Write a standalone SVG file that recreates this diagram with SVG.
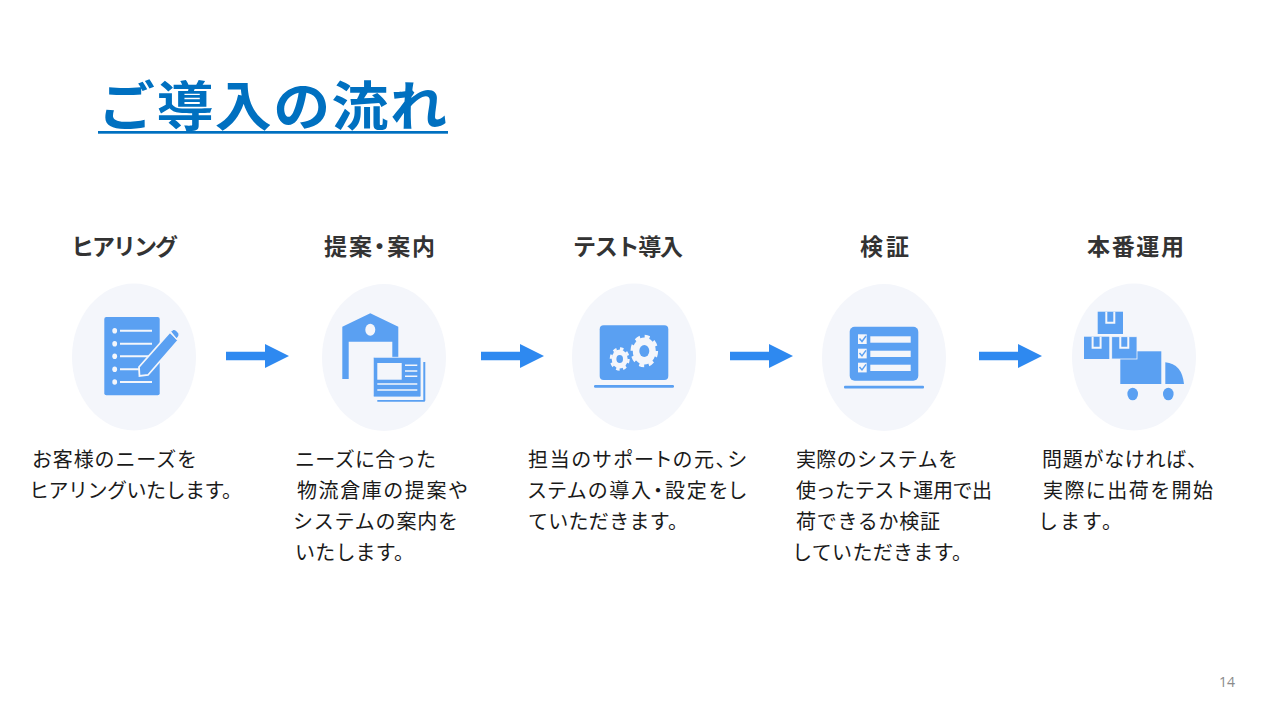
<svg xmlns="http://www.w3.org/2000/svg" width="1280" height="720" viewBox="0 0 1280 720">
<defs>
<style>
text{font-family:"Noto Sans CJK JP","Noto Sans",sans-serif}
.title{font-size:57px;font-weight:700;fill:#0070c0}
.head{font-size:23px;font-weight:700;fill:#333}
.body{font-size:20px;font-weight:400;fill:#1a1a1a}
.palt{font-feature-settings:"palt"}
.bg{fill:#f4f6fb}
.ic{fill:#5aa0f2}
.lt{fill:#f4f6fb}
.ln{stroke:#f4f6fb;stroke-width:2;fill:none}
.arrow{fill:#2e89f0}
</style>
<path id="arr" class="arrow" d="M0 -4.2H39V-12L63 0L39 12V4.2H0Z"/>
</defs>
<rect width="1280" height="720" fill="#fff"/>
<g id="title">
<text class="title" transform="translate(98 126) scale(1 .93)" textLength="349">ご導入の流れ</text>
<rect x="98" y="131" width="350" height="2.700" fill="#0070c0"/>
</g>
<g id="connectors">
<use href="#arr" x="226" y="356"/>
<use href="#arr" x="481" y="356"/>
<use href="#arr" x="730" y="356"/>
<use href="#arr" x="979" y="356"/>
</g>
<g id="node-hearing">
<text class="head" x="71" y="255" textLength="107">ヒアリング</text>
<ellipse class="bg" cx="134" cy="357" rx="62" ry="73.5"/>
<rect class="ic" x="104.3" y="317" width="55.4" height="78.3" rx="2"/>
<g class="lt"><ellipse cx="114.7" cy="330.7" rx="2.4" ry="2.8"/><ellipse cx="114.7" cy="343.7" rx="2.4" ry="2.8"/><ellipse cx="114.7" cy="356.3" rx="2.4" ry="2.8"/><ellipse cx="114.7" cy="369.3" rx="2.4" ry="2.8"/><ellipse cx="114.7" cy="382" rx="2.4" ry="2.8"/></g>
<path class="ln" d="M120 330.7H152M120 343.7H152M120 356.3H150M120 369.3H140M120 382H152"/>
<path class="ic" stroke="#f4f6fb" stroke-width="1.8" d="M139 367L170 332L178.500 340L148 375L139.500 376Z"/>
<path class="ic" stroke="#f4f6fb" stroke-width="1.2" d="M170.500 331.500L173 329.500Q175 329 177 331L179 333.500Q179.500 336 178 337.500L176.500 339Z"/>
<text class="body" x="32" y="466.500" textLength="165">お客様のニーズを</text>
<text class="body" x="29" y="497.500" textLength="213">ヒアリングいたします。</text>
</g>
<g id="node-proposal">
<text class="head palt" x="324" y="255" textLength="111">提案・案内</text>
<ellipse class="bg" cx="384" cy="357.500" rx="62" ry="73.500"/>
<path class="ic" d="M342.300 326.700L370.300 313.300L398.300 326.700V357.700H392.300V341.700H348.700V379H342.300Z"/>
<ellipse class="lt" cx="370.300" cy="329.700" rx="5" ry="6"/>
<path class="ic" d="M377.300 400H423.300V362H425.300V400.500Q425.300 401.700 424 401.700H377.300Z"/>
<rect class="ic" x="373.300" y="357.300" width="47.700" height="39.700" rx="1.200" stroke="#f4f6fb" stroke-width=".8"/>
<rect class="lt" x="377.300" y="363" width="24.400" height="16.700"/>
<path class="ln" stroke-width="1.600" style="stroke-width:1.600px" d="M405 365.300H417.300M405 371H417.300M405 376.300H417.300M377.300 384H417.300M377.300 390H417.300"/>
<text class="body" x="295" y="466.500" textLength="141">ニーズに合った</text>
<text class="body" x="297" y="497.500" textLength="171">物流倉庫の提案や</text>
<text class="body" x="293" y="528.500" textLength="165">システムの案内を</text>
<text class="body" x="295" y="559.500" textLength="119">いたします。</text>
</g>
<g id="node-test">
<text class="head" x="573" y="255" textLength="110">テスト導入</text>
<ellipse class="bg" cx="634" cy="357" rx="62" ry="73.500"/>
<rect class="ic" x="599.700" y="325.300" width="68.600" height="54.700" rx="4"/>
<rect class="ic" x="594" y="385" width="80" height="2.700" rx="1.300"/>
<g transform="translate(644.300 351) scale(1 1.180)">
<circle class="lt" r="11.500"/>
<circle r="12.300" fill="none" stroke="#f4f6fb" stroke-width="3" stroke-dasharray="5 4.660"/>
<circle class="ic" r="5"/>
</g>
<g transform="translate(619.700 359) scale(1 1.180)">
<circle class="lt" r="8"/>
<circle r="8.800" fill="none" stroke="#f4f6fb" stroke-width="2.400" stroke-dasharray="3.500 3.410"/>
<circle class="ic" r="3.300"/>
</g>
<text class="body palt" x="528" y="466.500" textLength="218">担当のサポートの元、シ</text>
<text class="body palt" x="528" y="497.500" textLength="218">ステムの導入・設定をし</text>
<text class="body" x="528" y="528.500" textLength="160">ていただきます。</text>
</g>
<g id="node-verify">
<text class="head" x="860" y="255" textLength="49">検証</text>
<ellipse class="bg" cx="884" cy="357.500" rx="62" ry="73.500"/>
<rect class="ic" x="849.700" y="326.700" width="68.600" height="54" rx="5"/>
<rect class="ic" x="844" y="385.700" width="80" height="2.700" rx="1"/>
<g class="lt">
<rect x="858" y="334.300" width="8.700" height="9.700"/><rect x="858" y="348.700" width="8.700" height="9.700"/><rect x="858" y="362.700" width="8.700" height="9.700"/>
<rect x="870.300" y="336.300" width="40.400" height="6.400"/><rect x="870.300" y="350.700" width="40.400" height="6.300"/><rect x="870.300" y="364.700" width="40.400" height="6.300"/>
</g>
<path d="M859.500 338.500L862 341.500L866 336M859.500 352.900L862 355.900L866 350.400M859.500 366.900L862 369.900L866 364.400" fill="none" stroke="#5aa0f2" stroke-width="1.500"/>
<text class="body" x="796" y="466.500" textLength="162">実際のシステムを</text>
<text class="body" x="796" y="497.500" textLength="196">使ったテスト運用で出</text>
<text class="body" x="796" y="528.500" textLength="144">荷できるか検証</text>
<text class="body" x="792" y="559.500" textLength="180">していただきます。</text>
</g>
<g id="node-operation">
<text class="head" x="1087" y="255" textLength="97">本番運用</text>
<ellipse class="bg" cx="1134" cy="357" rx="62" ry="73.500"/>
<rect class="ic" x="1097.700" y="311.700" width="25.300" height="22.300"/>
<rect class="ic" x="1084" y="336.700" width="25.300" height="22.300"/>
<rect class="ic" x="1120.300" y="351.300" width="41" height="32.700"/>
<rect class="ic" x="1111.700" y="336.700" width="25.300" height="22.300" stroke="#f4f6fb" stroke-width=".8"/>
<path class="ln" d="M1106.300 311.700V322.700H1114.300V311.700M1092.600 336.700V347.700H1100.600V336.700M1120.300 336.700V347.700H1128.300V336.700"/>
<path class="ic" d="M1165.300 362.300Q1182 364 1184 384H1165.300Z"/>
<ellipse class="ic" cx="1132.700" cy="394" rx="5.300" ry="6.300"/>
<ellipse class="ic" cx="1168.300" cy="394" rx="5.300" ry="6.300"/>
<text class="body" x="1042" y="466.500" textLength="165">問題がなければ、</text>
<text class="body" x="1043" y="497.500" textLength="170">実際に出荷を開始</text>
<text class="body" x="1038" y="528.500" textLength="84">します。</text>
</g>
<text id="page-number" x="1219" y="687" font-size="14" fill="#8a8a8a" style="font-family:'Open Sans',sans-serif">14</text>
</svg>
